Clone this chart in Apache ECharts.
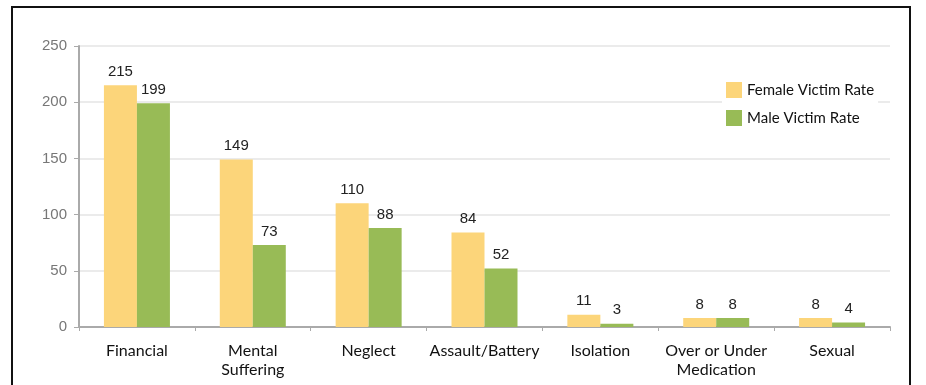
<!DOCTYPE html>
<html>
<head>
<meta charset="utf-8">
<script src="https://cdn.jsdelivr.net/npm/echarts@6/dist/echarts.min.js"></script>
<style>
  html, body { margin: 0; padding: 0; background: #fff; }
  #frame { position: absolute; left: 11px; top: 6px; width: 900px; height: 400px; border: 2px solid #111; box-sizing: border-box; }
  #chart { position: absolute; left: 0; top: 0; width: 926px; height: 385px; }
</style>
</head>
<body>
<div id="frame"></div>
<div id="chart"></div>
<script>
const categories = ['Financial', 'Mental\nSuffering', 'Neglect', 'Assault/Battery', 'Isolation', 'Over or Under\nMedication', 'Sexual'];
const femaleRate = [215, 149, 110, 84, 11, 8, 8];
const maleRate = [199, 73, 88, 52, 3, 8, 4];

const chart = echarts.init(document.getElementById('chart'));

const valueLabel = {
    show: true,
    position: 'top',
    distance: 6,
    color: '#222',
    fontFamily: 'Liberation Sans',
    fontSize: 15
};

var option = {
    animation: false,
    grid: {
        left: 79,
        right: 36,
        top: 46,
        bottom: 58
    },
    legend: {
        orient: 'vertical',
        left: 722,
        top: 80,
        icon: 'rect',
        itemWidth: 16,
        itemHeight: 16,
        itemGap: 12,
        backgroundColor: '#fff',
        padding: [2, 4, 2, 4],
        textStyle: {
            fontFamily: 'Lato',
            fontSize: 15,
            color: '#111'
        },
        data: ['Female Victim Rate', 'Male Victim Rate']
    },
    xAxis: {
        type: 'category',
        data: categories,
        axisLine: { lineStyle: { color: '#aaa', width: 2 } },
        axisTick: { show: true, length: 4, lineStyle: { color: '#aaa' } },
        axisLabel: {
            interval: 0,
            margin: 14,
            fontFamily: 'Lato',
            fontSize: 16,
            lineHeight: 19,
            color: '#111'
        }
    },
    yAxis: {
        type: 'value',
        min: 0,
        max: 250,
        interval: 50,
        axisLine: { show: true, lineStyle: { color: '#aaa', width: 2 } },
        axisTick: { show: true, length: 5, lineStyle: { color: '#aaa' } },
        axisLabel: {
            margin: 12,
            fontFamily: 'Liberation Sans',
            fontSize: 15,
            color: '#777'
        },
        splitLine: { lineStyle: { color: '#ebebeb', width: 2 } }
    },
    series: [{
        name: 'Female Victim Rate',
        type: 'bar',
        data: femaleRate,
        barWidth: 33,
        barGap: '0%',
        itemStyle: { color: '#fcd57a' },
        label: valueLabel
    }, {
        name: 'Male Victim Rate',
        type: 'bar',
        data: maleRate,
        barWidth: 33,
        barGap: '0%',
        itemStyle: { color: '#98bb56' },
        label: valueLabel
    }]
};

chart.setOption(option);
</script>
</body>
</html>
